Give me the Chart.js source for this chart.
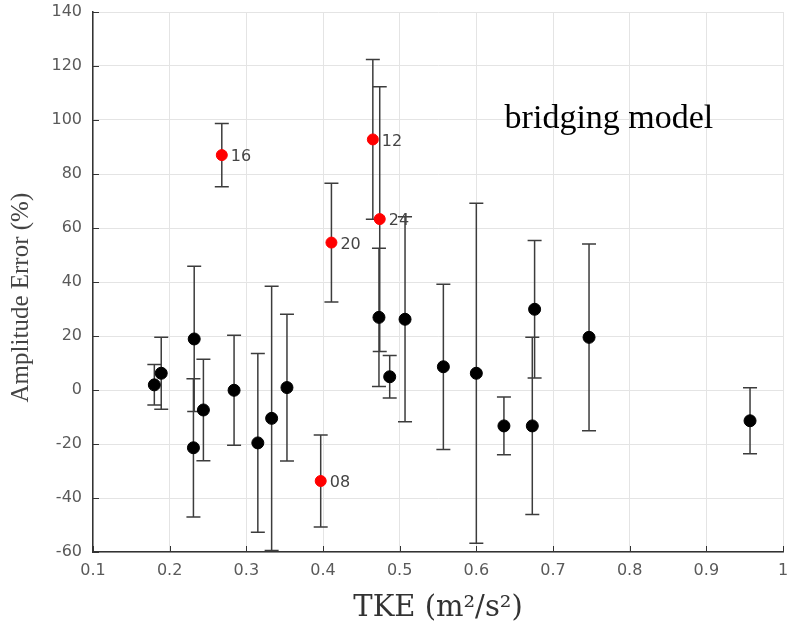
<!DOCTYPE html>
<html>
<head>
<meta charset="utf-8">
<script src="https://cdn.jsdelivr.net/npm/chart.js@4.4.1/dist/chart.umd.min.js"></script>
<style>
  body { margin: 0; background: #fff; }
  #wrap { width: 789px; height: 627px; }
</style>
</head>
<body>
<div id="wrap"><canvas id="chart" width="789" height="627"></canvas></div>
<script>
// TKE (m2/s2), amplitude error (%) and half-width of the error bar
const blackTke = [0.180, 0.189, 0.232, 0.231, 0.244, 0.284, 0.315, 0.333, 0.353, 0.473, 0.487, 0.507, 0.557, 0.600, 0.636, 0.673, 0.676, 0.747, 0.957];
const blackErr = [1.9, 6.2, 18.9, -21.4, -7.4, -0.1, -19.6, -10.5, 0.9, 26.9, 4.9, 26.2, 8.6, 6.2, -13.3, -13.3, 29.9, 19.5, -11.4];
const blackBar = [7.5, 13.3, 26.9, 25.6, 18.8, 20.4, 33.1, 48.9, 27.2, 25.6, 7.9, 38.0, 30.6, 63.0, 10.7, 32.8, 25.5, 34.6, 12.2];

const redTke = [0.268, 0.397, 0.411, 0.465, 0.474];
const redErr = [87.0, -33.7, 54.6, 92.8, 63.3];
const redBar = [11.7, 17.0, 22.0, 29.6, 49.0];
const redLabels = ['16', '08', '20', '12', '24'];

const xTicks = [0.1, 0.2, 0.3, 0.4, 0.5, 0.6, 0.7, 0.8, 0.9, 1];
const yTicks = [-60, -40, -20, 0, 20, 40, 60, 80, 100, 120, 140];

const modelName = 'bridging model';

function toPoints(xs, ys, bars) {
    return xs.map((x, i) => ({ x: x, y: ys[i], e: bars[i] }));
}

// Barras de erro, marcas internas dos eixos e rótulos
const extrasPlugin = {
    id: 'extras',
    beforeDatasetsDraw(chart) {
        const ctx = chart.ctx;
        const xs = chart.scales.x, ys = chart.scales.y;
        ctx.save();
        ctx.strokeStyle = '#3c3c3c';
        ctx.lineWidth = 1.5;
        chart.data.datasets.forEach(ds => {
            ds.data.forEach(p => {
                const px = xs.getPixelForValue(p.x);
                const top = ys.getPixelForValue(p.y + p.e);
                const bot = ys.getPixelForValue(p.y - p.e);
                ctx.beginPath();
                ctx.moveTo(px, top); ctx.lineTo(px, bot);
                ctx.moveTo(px - 7, top); ctx.lineTo(px + 7, top);
                ctx.moveTo(px - 7, bot); ctx.lineTo(px + 7, bot);
                ctx.stroke();
            });
        });
        // marcas internas
        const area = chart.chartArea;
        ctx.strokeStyle = '#333';
        ctx.lineWidth = 1;
        ctx.beginPath();
        xTicks.forEach(v => {
            const px = Math.round(xs.getPixelForValue(v)) + 0.5;
            ctx.moveTo(px, area.bottom); ctx.lineTo(px, area.bottom - 6);
        });
        yTicks.forEach(v => {
            const py = Math.round(ys.getPixelForValue(v)) + 0.5;
            ctx.moveTo(area.left, py); ctx.lineTo(area.left + 6, py);
        });
        ctx.stroke();
        ctx.restore();
    },
    afterDatasetsDraw(chart) {
        const ctx = chart.ctx;
        const xs = chart.scales.x, ys = chart.scales.y;
        ctx.save();
        ctx.fillStyle = '#444';
        ctx.font = '16px "DejaVu Sans", sans-serif';
        ctx.textAlign = 'left';
        ctx.textBaseline = 'middle';
        redTke.forEach((x, i) => {
            ctx.fillText(redLabels[i], xs.getPixelForValue(x) + 9, ys.getPixelForValue(redErr[i]) + 2);
        });
        ctx.fillStyle = '#000';
        ctx.font = '34px "Liberation Serif", serif';
        ctx.textAlign = 'center';
        ctx.fillText(modelName, xs.getPixelForValue(0.773), ys.getPixelForValue(100.5));
        ctx.restore();
    }
};

function noPadding(scale) {
    scale.paddingTop = 0;
    scale.paddingBottom = 0;
    scale.paddingLeft = 0;
    scale.paddingRight = 0;
}

document.addEventListener('DOMContentLoaded', function() {
    const ctx = document.getElementById('chart').getContext('2d');
    new Chart(ctx, {
        type: 'scatter',
        data: {
            datasets: [{
                label: 'black',
                data: toPoints(blackTke, blackErr, blackBar),
                backgroundColor: '#000',
                borderColor: '#000',
                pointRadius: 6,
                pointHoverRadius: 6
            }, {
                label: 'red',
                data: toPoints(redTke, redErr, redBar),
                backgroundColor: '#ff0000',
                borderColor: '#ff0000',
                pointRadius: 5.5,
                pointHoverRadius: 5.5
            }]
        },
        options: {
            responsive: false,
            animation: false,
            layout: { autoPadding: false, padding: { top: 12, right: 6, left: 0, bottom: 0 } },
            plugins: {
                legend: { display: false },
                tooltip: { enabled: false }
            },
            scales: {
                x: {
                    type: 'linear',
                    min: 0.1,
                    max: 1,
                    afterBuildTicks(scale) { scale.ticks = xTicks.map(v => ({ value: v })); },
                    afterFit(scale) { scale.height = 75; noPadding(scale); },
                    grid: { color: '#e4e4e4', drawTicks: false },
                    border: { display: true, color: '#333', width: 1.5 },
                    ticks: {
                        padding: 9,
                        color: '#5a5a5a',
                        font: { family: '"DejaVu Sans", sans-serif', size: 16 },
                        callback: v => String(v)
                    },
                    title: {
                        display: true,
                        text: 'TKE (m²/s²)',
                        color: '#333',
                        padding: { top: 0, bottom: 1 },
                        font: { family: '"DejaVu Serif", serif', size: 29 }
                    }
                },
                y: {
                    type: 'linear',
                    min: -60,
                    max: 140,
                    afterBuildTicks(scale) { scale.ticks = yTicks.map(v => ({ value: v })); },
                    afterFit(scale) { scale.width = 93; noPadding(scale); },
                    grid: { color: '#e4e4e4', drawTicks: false },
                    border: { display: true, color: '#333', width: 1.5 },
                    ticks: {
                        padding: 11,
                        color: '#5a5a5a',
                        font: { family: '"DejaVu Sans", sans-serif', size: 16 },
                        callback: v => String(v)
                    },
                    title: {
                        display: true,
                        // espaços no fim para descer o título, como no original
                        text: 'Amplitude Error (%)     ',
                        color: '#444',
                        padding: { top: 6, bottom: 4 },
                        font: { family: '"Liberation Serif", serif', size: 25 }
                    }
                }
            }
        },
        plugins: [extrasPlugin]
    });
});
</script>
</body>
</html>
